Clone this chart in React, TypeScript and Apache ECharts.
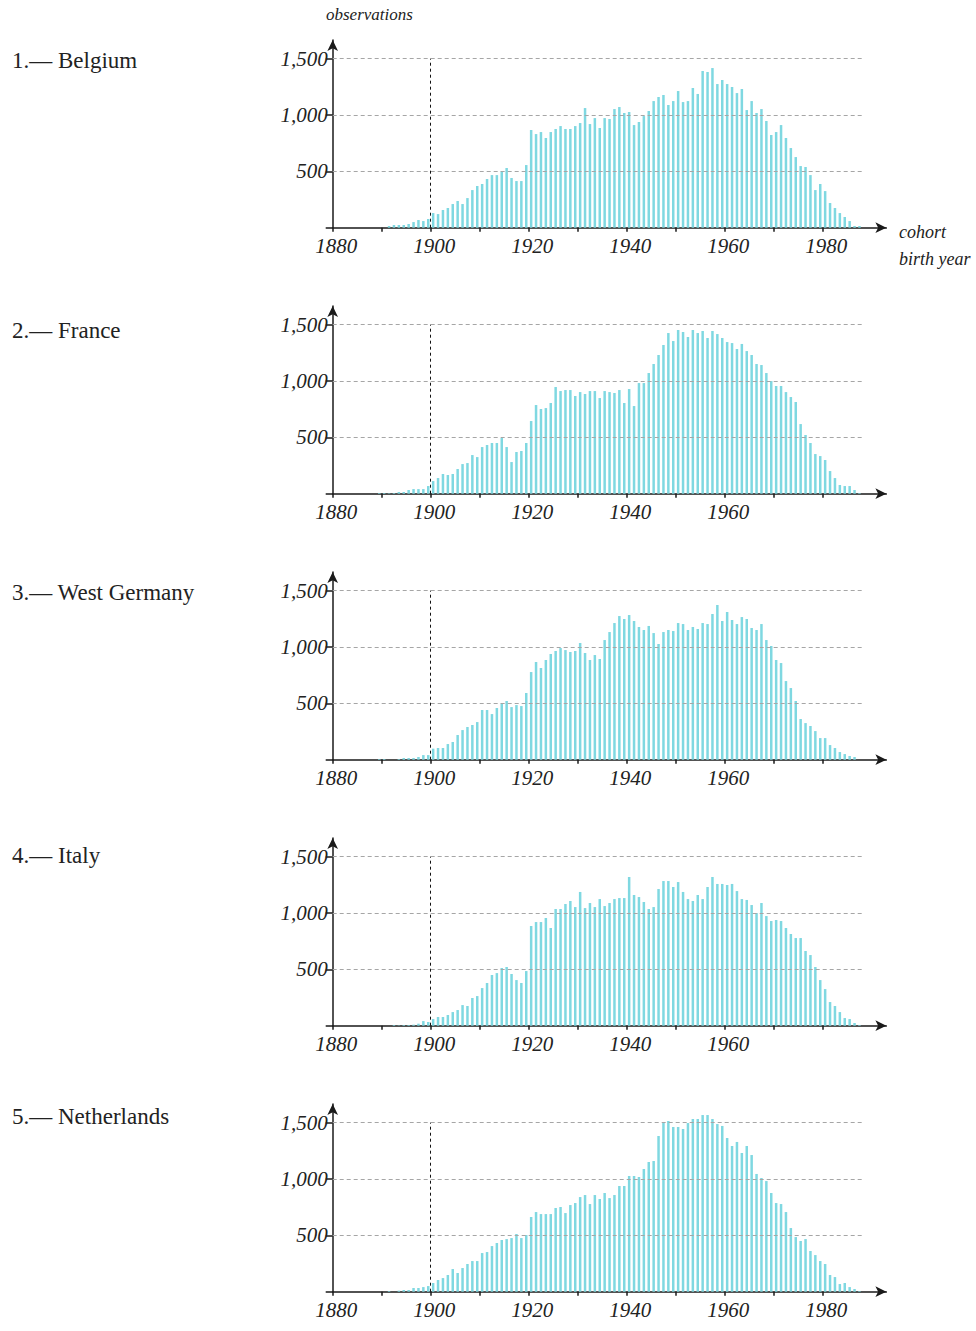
import React, { useEffect, useRef } from "react";
import * as echarts from "echarts";

// ---------- DATA ----------
const START_YEAR = 1889; // first value of every array is cohort 1889, last is 1987

const TITLES = ["1.— Belgium", "2.— France", "3.— West Germany", "4.— Italy", "5.— Netherlands"];

const belgium = [
  0,
  0, 15, 24, 24, 24, 33, 50, 68, 59, 77,
  130, 121, 157, 175, 210, 237, 210, 263, 334, 370,
  388, 432, 467, 467, 503, 530, 441, 414, 414, 556,
  867, 831, 849, 796, 849, 876, 902, 876, 876, 902,
  929, 1062, 920, 973, 885, 973, 965, 1053, 1071, 1018,
  1027, 911, 938, 991, 1036, 1124, 1160, 1178, 1089, 1124,
  1213, 1115, 1124, 1240, 1187, 1391, 1382, 1417, 1275, 1311,
  1275, 1249, 1195, 1231, 1044, 1124, 1018, 1053, 947, 823,
  849, 911, 796, 707, 627, 547, 539, 467, 334, 388,
  325, 219, 175, 130, 95, 59, 15, 15,
];

const france = [
  6,
  6, 4, 6, 15, 15, 33, 41, 41, 41, 68,
  112, 139, 175, 166, 175, 219, 263, 272, 343, 325,
  414, 432, 450, 450, 494, 414, 281, 370, 379, 450,
  645, 787, 752, 760, 805, 947, 911, 920, 920, 867,
  902, 885, 911, 911, 849, 911, 902, 894, 920, 805,
  929, 778, 982, 982, 1071, 1151, 1231, 1320, 1426, 1355,
  1453, 1435, 1391, 1453, 1426, 1444, 1382, 1444, 1417, 1382,
  1346, 1337, 1284, 1329, 1266, 1231, 1151, 1142, 1071, 1000,
  956, 956, 902, 858, 814, 618, 521, 450, 352, 334,
  299, 201, 139, 77, 68, 68, 33, 6,
];

const westGermany = [
  6,
  6, 0, 0, 6, 15, 15, 15, 24, 41, 41,
  98, 104, 104, 139, 157, 219, 263, 290, 308, 334,
  441, 441, 405, 459, 503, 521, 467, 485, 476, 592,
  778, 867, 814, 885, 938, 965, 991, 973, 956, 965,
  1036, 947, 885, 929, 894, 1062, 1133, 1213, 1275, 1249,
  1284, 1231, 1178, 1151, 1187, 1124, 1027, 1133, 1151, 1142,
  1213, 1204, 1151, 1178, 1160, 1213, 1204, 1293, 1373, 1231,
  1311, 1240, 1204, 1266, 1249, 1169, 1151, 1204, 1062, 1009,
  885, 858, 698, 636, 521, 361, 325, 299, 254, 192,
  192, 130, 104, 68, 50, 33, 24, 0,
];

const italy = [
  0,
  0, 0, 6, 3, 6, 6, 9, 18, 41, 33,
  59, 77, 77, 95, 121, 139, 183, 175, 246, 263,
  334, 379, 450, 467, 512, 521, 459, 405, 379, 485,
  885, 920, 920, 956, 867, 1036, 1036, 1080, 1107, 1053,
  1187, 1044, 1089, 1053, 1124, 1062, 1089, 1124, 1133, 1133,
  1320, 1160, 1142, 1098, 1036, 1053, 1213, 1284, 1284, 1231,
  1275, 1187, 1124, 1107, 1160, 1124, 1231, 1320, 1258, 1258,
  1249, 1258, 1195, 1124, 1116, 1071, 1000, 1089, 973, 929,
  938, 929, 867, 814, 778, 778, 663, 627, 521, 405,
  325, 210, 175, 121, 68, 59, 24, 6,
];

const netherlands = [
  0,
  0, 6, 0, 9, 15, 15, 33, 33, 41, 50,
  77, 104, 121, 148, 201, 166, 210, 246, 272, 272,
  343, 352, 405, 432, 459, 467, 476, 512, 476, 503,
  663, 707, 689, 689, 689, 743, 752, 698, 769, 787,
  840, 858, 778, 858, 823, 876, 831, 858, 938, 938,
  1027, 1027, 1018, 1089, 1151, 1160, 1382, 1506, 1515, 1462,
  1462, 1444, 1497, 1533, 1533, 1568, 1568, 1533, 1488, 1471,
  1364, 1293, 1329, 1231, 1293, 1213, 1045, 1009, 982, 876,
  787, 778, 707, 565, 485, 450, 467, 361, 325, 272,
  246, 148, 130, 68, 77, 41, 24, 6,
];

const SERIES_VALUES = [belgium, france, westGermany, italy, netherlands];

const Y_GRID_VALUES = [500, 1000, 1500];
const Y_TICK_VALUES = [0, 500, 1000, 1500];
const X_TICK_VALUES = [1880, 1890, 1900, 1910, 1920, 1930, 1940, 1950, 1960, 1970, 1980];
const X_LABELS_LONG = [1880, 1900, 1920, 1940, 1960, 1980];
const X_LABELS_SHORT = [1880, 1900, 1920, 1940, 1960];
const PANEL_X_LABELS = [X_LABELS_LONG, X_LABELS_SHORT, X_LABELS_SHORT, X_LABELS_SHORT, X_LABELS_LONG];
const REFERENCE_YEAR = 1900;
const X_MIN = 1880;
const X_MAX = 1993;
const GRID_LINE_END = 1988;
const Y_MAX = 1665;

// ---------- LAYOUT ----------
const AXIS_LEFT = 332.7;
const PX_PER_YEAR = 4.9;
const PX_PER_UNIT = 0.11267;
const BASELINES = [227.7, 493.7, 759.7, 1025.7, 1291.7];
const TITLE_Y = [60, 330, 592, 855, 1116];
const FONT = "'Liberation Serif', 'DejaVu Serif', serif";
const BAR_COLOR = "#7fd8e1";
const AXIS_COLOR = "#1a1a1a";

export default function App() {
  const ref = useRef<HTMLDivElement>(null);

  useEffect(() => {
    if (!ref.current) return;
    const chart = echarts.init(ref.current, null, { renderer: "svg" });

    const gridW = (X_MAX - X_MIN) * PX_PER_YEAR;
    const gridH = Y_MAX * PX_PER_UNIT;

    const grids: any[] = [];
    const xAxes: any[] = [];
    const yAxes: any[] = [];
    const series: any[] = [];

    SERIES_VALUES.forEach((vals, i) => {
      grids.push({
        left: AXIS_LEFT,
        top: BASELINES[i] - gridH,
        width: gridW,
        height: gridH,
      });
      xAxes.push({
        type: "value",
        gridIndex: i,
        min: X_MIN,
        max: X_MAX,
        axisLine: {
          show: true,
          onZero: false,
          symbol: ["none", "arrow"],
          symbolSize: [8, 11],
          lineStyle: { color: AXIS_COLOR, width: 1.5 },
        },
        axisTick: {
          show: true,
          length: 4,
          customValues: X_TICK_VALUES,
          lineStyle: { color: AXIS_COLOR, width: 1.5 },
        },
        axisLabel: {
          show: true,
          customValues: PANEL_X_LABELS[i],
          formatter: (v: number) => String(v),
          fontFamily: FONT,
          fontStyle: "italic",
          fontSize: 21,
          color: "#222",
          margin: 8,
          padding: [0, 0, 0, 7],
        },
        splitLine: { show: false },
      });
      yAxes.push({
        type: "value",
        gridIndex: i,
        min: 0,
        max: Y_MAX,
        axisLine: {
          show: true,
          onZero: false,
          symbol: ["none", "arrow"],
          symbolSize: [8, 11],
          lineStyle: { color: AXIS_COLOR, width: 1.5 },
        },
        axisTick: {
          show: true,
          length: 7,
          customValues: Y_TICK_VALUES,
          lineStyle: { color: AXIS_COLOR, width: 1.5 },
        },
        axisLabel: {
          show: true,
          customValues: Y_GRID_VALUES,
          formatter: (v: number) => v.toLocaleString("en-US"),
          fontFamily: FONT,
          fontStyle: "italic",
          fontSize: 21,
          color: "#222",
          margin: 5,
        },
        splitLine: { show: false },
      });
      series.push({
        type: "bar",
        xAxisIndex: i,
        yAxisIndex: i,
        barWidth: 2.5,
        itemStyle: { color: BAR_COLOR },
        data: vals.map((v, k) => [START_YEAR + k + 0.5, v]),
        markLine: {
          silent: true,
          symbol: ["none", "none"],
          label: { show: false },
          animation: false,
          data: [
            ...Y_GRID_VALUES.map((v) => [
              { coord: [X_MIN, v], lineStyle: { color: "#a6a6a6", type: [4, 3], width: 1 } },
              { coord: [GRID_LINE_END, v] },
            ]),
            [
              { coord: [REFERENCE_YEAR, 0], lineStyle: { color: "#111", type: [3, 3], width: 1 } },
              { coord: [REFERENCE_YEAR, Y_GRID_VALUES[Y_GRID_VALUES.length - 1]] },
            ],
          ],
        },
      });
    });

    const graphics: any[] = TITLES.map((t, i) => ({
      type: "text",
      x: 12,
      y: TITLE_Y[i],
      style: {
        text: t,
        fontFamily: FONT,
        fontSize: 23,
        fill: "#222",
        verticalAlign: "middle",
      },
    }));
    graphics.push(
      {
        type: "text",
        x: 326,
        y: 14,
        style: { text: "observations", fontFamily: FONT, fontStyle: "italic", fontSize: 17, fill: "#222", verticalAlign: "middle" },
      },
      {
        type: "text",
        x: 899,
        y: 232,
        style: { text: "cohort", fontFamily: FONT, fontStyle: "italic", fontSize: 18, fill: "#222", verticalAlign: "middle" },
      },
      {
        type: "text",
        x: 899,
        y: 259,
        style: { text: "birth year", fontFamily: FONT, fontStyle: "italic", fontSize: 18, fill: "#222", verticalAlign: "middle" },
      }
    );

    chart.setOption({
      animation: false,
      backgroundColor: "#ffffff",
      grid: grids,
      xAxis: xAxes,
      yAxis: yAxes,
      series,
      graphic: graphics,
    });

    return () => chart.dispose();
  }, []);

  return (
    <div
      ref={ref}
      style={{ position: "absolute", left: 0, top: 0, width: 976, height: 1331 }}
    />
  );
}
